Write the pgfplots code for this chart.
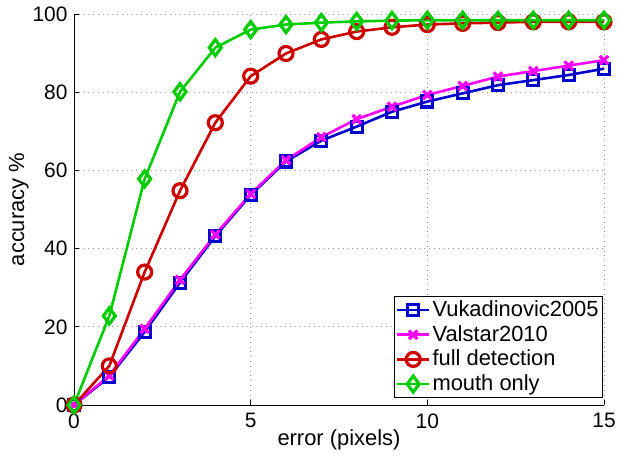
\documentclass[border=0pt]{standalone}
\usepackage{pgfplots}
\pgfplotsset{compat=1.18}
\usepackage{fontspec}
\setmainfont{Liberation Sans}

\definecolor{cblue}{RGB}{0,0,205}
\definecolor{cmag}{RGB}{255,0,255}
\definecolor{cred}{RGB}{204,0,0}
\definecolor{cgreen}{RGB}{0,204,0}

\pgfplotstableread{
x  vuk   val   full  mouth
0  0     0     0     0
1  7.2   7.5   10.0  22.8
2  18.7  19.5  34.0  57.8
3  31.3  32.0  54.8  80.1
4  43.2  43.6  72.2  91.4
5  53.7  54.0  84.1  96.0
6  62.3  62.6  89.9  97.3
7  67.6  68.5  93.5  97.8
8  71.2  73.1  95.5  98.1
9  75.0  76.3  96.6  98.3
10 77.6  79.3  97.3  98.4
11 79.7  81.6  97.6  98.4
12 81.8  84.0  97.8  98.4
13 83.1  85.4  98.0  98.4
14 84.4  86.8  98.0  98.4
15 86.0  88.2  98.0  98.4
}\acc

\pgfplotsset{
  curve/.style={line width=2.6bp, mark options={line width=3.2bp, solid}},
}

\begin{document}
\fontsize{22}{26}\selectfont
\begin{tikzpicture}[x=1bp,y=1bp]
% fixed page frame around the 530 x 391 plot box
\useasboundingbox (-74bp,-51bp) rectangle (544bp,405bp);
\begin{axis}[
  at={(0,0)}, anchor=south west,
  scale only axis,
  width=530bp, height=391bp,
  xmin=0, xmax=15, ymin=0, ymax=100,
  xtick={0,5,10,15}, ytick={0,20,40,60,80,100},
  axis lines=left,
  axis line style={-, black, line width=0.6bp},
  tick align=inside,
  major tick length=5bp,
  tick style={black, line width=0.6bp},
  grid=major,
  major grid style={gray!80, line width=0.6bp, dash pattern=on 0.8bp off 4bp},
  /pgf/number format/assume math mode=true,
  ticklabel style={font=\fontsize{21}{25}\selectfont},
  xticklabel style={yshift=-1bp},
  yticklabel style={xshift=1bp},
  label style={font=\fontsize{22}{26}\selectfont},
  xlabel={error (pixels)},
  ylabel={accuracy \%},
  xlabel style={at={(axis description cs:0.5,-0.09)}, anchor=center},
  ylabel style={at={(axis description cs:-0.104,0.5)}, anchor=center},
  legend cell align=left,
  legend style={at={(0.998,0.018)}, anchor=south east, draw=black,
    line width=0.6bp, inner sep=2bp, row sep=1.5bp,
    font=\fontsize{22}{26}\selectfont},
  legend image code/.code={
    \draw[mark repeat=2, mark phase=2, #1] plot coordinates {(0bp,0bp) (16bp,0bp) (32bp,0bp)};
  },
  clip=false,
]
\addplot[curve, cblue, mark=square, mark size=5.5bp] table[x=x, y=vuk] {\acc};
\addlegendentry{Vukadinovic2005}
\addplot[curve, cmag, mark=x, mark size=6bp] table[x=x, y=val] {\acc};
\addlegendentry{Valstar2010}
\addplot[curve, cred, mark=o, mark size=7bp] table[x=x, y=full] {\acc};
\addlegendentry{full detection}
\addplot[curve, cgreen, mark=diamond, mark size=8bp] table[x=x, y=mouth] {\acc};
\addlegendentry{mouth only}
\end{axis}
\end{tikzpicture}
\end{document}
